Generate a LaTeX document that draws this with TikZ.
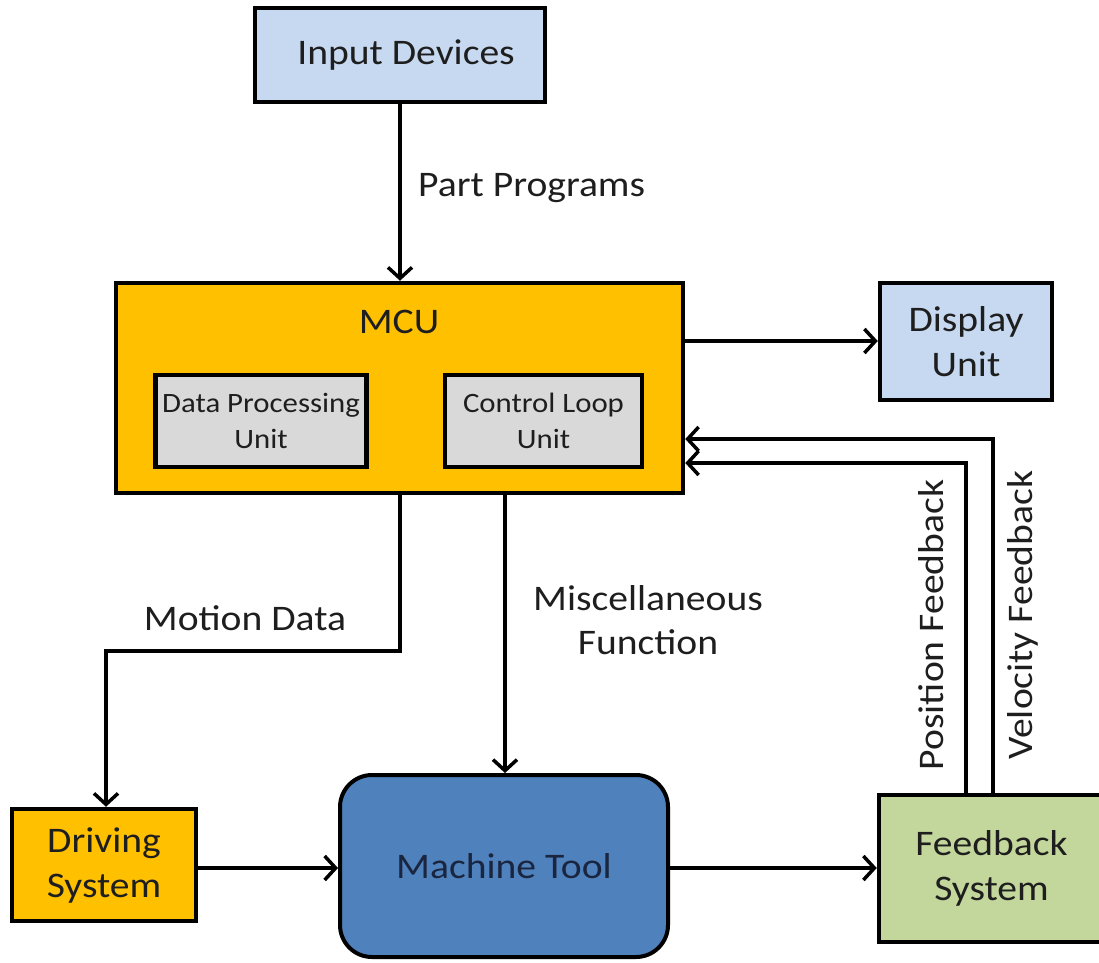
\documentclass[tikz,border=0pt]{standalone}
\usepackage{fontspec}
\setmainfont{Carlito}[FakeStretch=1.1]
\usetikzlibrary{arrows.meta}
\definecolor{lblue}{HTML}{C6D9F1}
\definecolor{mcuor}{HTML}{FFC000}
\definecolor{gry}{HTML}{D9D9D9}
\definecolor{mblue}{HTML}{4F81BD}
\definecolor{lgreen}{HTML}{C3D69B}
\definecolor{txt}{HTML}{1E1E1E}
\definecolor{navytxt}{HTML}{1A2540}
\begin{document}
\begin{tikzpicture}[x=1pt,y=-1pt,
  box/.style={draw=black, line width=4.5pt, text=txt, align=center, inner sep=0pt,
    font=\fontsize{36}{45}\selectfont},
  small/.style={draw=black, line width=4.5pt, text=txt, align=center, inner sep=0pt,
    fill=gry, font=\fontsize{28}{36}\selectfont},
  lbl/.style={text=txt, inner sep=0pt, align=center, font=\fontsize{36}{44}\selectfont},
  arr/.style={line width=3.5pt, -{Straight Barb[length=11pt,width=24pt,line width=3.5pt]}}]
\useasboundingbox (0,0) rectangle (1099,962);
\clip (0,0) rectangle (1099,962);

\node[box, fill=lblue, minimum width=290pt, minimum height=94pt] (inp) at (400,55) {\hspace*{12pt}Input Devices};
\node[box, fill=mcuor, minimum width=567pt, minimum height=210pt] (mcu) at (399.5,388) {};
\node[lbl] (mcut) at (399,322) {MCU};
\node[small, minimum width=211pt, minimum height=92pt] (dpu) at (261,421) {Data Processing\\Unit};
\node[small, minimum width=197pt, minimum height=92pt] (clu) at (543.5,421) {Control Loop\\Unit};
\node[box, fill=lblue, minimum width=172pt, minimum height=117pt] (disp) at (966,341.5) {Display\\Unit};
\node[box, fill=mcuor, minimum width=184pt, minimum height=112pt] (drv) at (104,865) {Driving\\System};
\node[box, fill=mblue, text=navytxt, line width=4pt, rounded corners=32pt, minimum width=328pt, minimum height=182pt] (mt) at (504,866) {Machine Tool};
\node[box, fill=lgreen, minimum width=225pt, minimum height=147pt] (fb) at (991.5,868.5) {Feedback\\System};

% Part programs
\draw[arr] (inp.south -| 400,0) -- (mcu.north -| 400,0);
\node[lbl, anchor=west] (pp) at (418,188) {Part Programs};

% Display
\draw[arr] (mcu.east |- 0,341) -- (disp.west |- 0,341);

% Motion data
\coordinate (m1) at (400,651);
\coordinate (m2) at (106,651);
\draw[arr] (mcu.south -| m1) -- (m1) -- (m2) -- (drv.north -| m2);
\node[lbl] (mdl) at (245,618) {Motion Data};

% Miscellaneous
\draw[arr] (mcu.south -| 505,0) -- (mt.north -| 505,0);
\node[lbl] (misc) at (648,620) {Miscellaneous\\Function};

% Bottom chain
\draw[arr] (drv.east |- 0,868) -- (mt.west |- 0,868);
\draw[arr] (mt.east |- 0,868) -- (fb.west |- 0,868);

% Feedback loops
\coordinate (v1) at (993,439);
\coordinate (p1) at (966,463);
\draw[arr] (fb.north -| v1) -- (v1) -- (mcu.east |- v1);
\draw[arr] (fb.north -| p1) -- (p1) -- (mcu.east |- p1);
\node[lbl, rotate=90] (pfl) at (931,625) {Position Feedback};
\node[lbl, rotate=90] (vfl) at (1023,615) {Velocity Feedback};
\end{tikzpicture}
\end{document}
